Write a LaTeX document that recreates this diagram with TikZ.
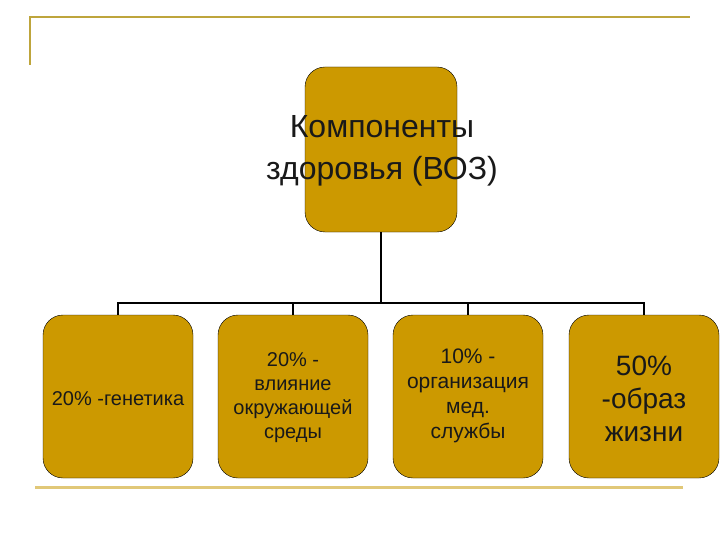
\documentclass[tikz,border=0pt]{standalone}
\usepackage{fontspec}
\setmainfont{Liberation Sans}
\definecolor{boxfill}{RGB}{204,153,0}
\definecolor{deco}{RGB}{190,165,60}
\definecolor{decolow}{RGB}{225,200,120}
\begin{document}
\begin{tikzpicture}[x=1pt,y=-1pt,
  box/.style={draw=black,fill=boxfill,rounded corners=20pt,minimum width=150pt,minimum height=163pt,inner sep=0pt},
  lbl/.style={align=center,text=black!90},
  conn/.style={draw=black,line width=1.2pt}]
\useasboundingbox (0,0) rectangle (720,540);
\fill[white] (0,0) rectangle (720,540);
% decorations
\draw[deco,line width=1.5pt] (30,65) -- (30,17) -- (690,17);
\draw[decolow,line width=3pt] (35,487) -- (683,487);
% top node
\node[box,minimum width=152pt,minimum height=165pt] (top) at (381,149.5) {};
\node[lbl,font=\fontsize{32}{42}\selectfont] (toptext) at (382,151) {Компоненты\\здоровья (ВОЗ)};
% children
\node[box] (c1) at (118,396.5) {};
\node[box] (c2) at (293,396.5) {};
\node[box] (c3) at (468,396.5) {};
\node[box] (c4) at (644,396.5) {};
\node[lbl,font=\fontsize{20}{24}\selectfont] at (c1) [yshift=-2pt] {20\% -генетика};
\node[lbl,font=\fontsize{20}{24}\selectfont] at (c2) [yshift=-1pt] {20\% -\\влияние\\окружающей\\среды};
\node[lbl,font=\fontsize{21}{25}\selectfont] at (c3) [yshift=1pt] {10\% -\\организация\\мед.\\службы};
\node[lbl,font=\fontsize{28}{33}\selectfont] at (c4) [yshift=-2pt] {50\%\\-образ\\жизни};
% connectors
\coordinate (bus) at (381,303);
\draw[conn] (top.south) -- (bus);
\draw[conn] (c1.north) -- (c1.north |- bus) -- (c4.north |- bus) -- (c4.north);
\draw[conn] (c2.north) -- (c2.north |- bus);
\draw[conn] (c3.north) -- (c3.north |- bus);
\end{tikzpicture}
\end{document}
